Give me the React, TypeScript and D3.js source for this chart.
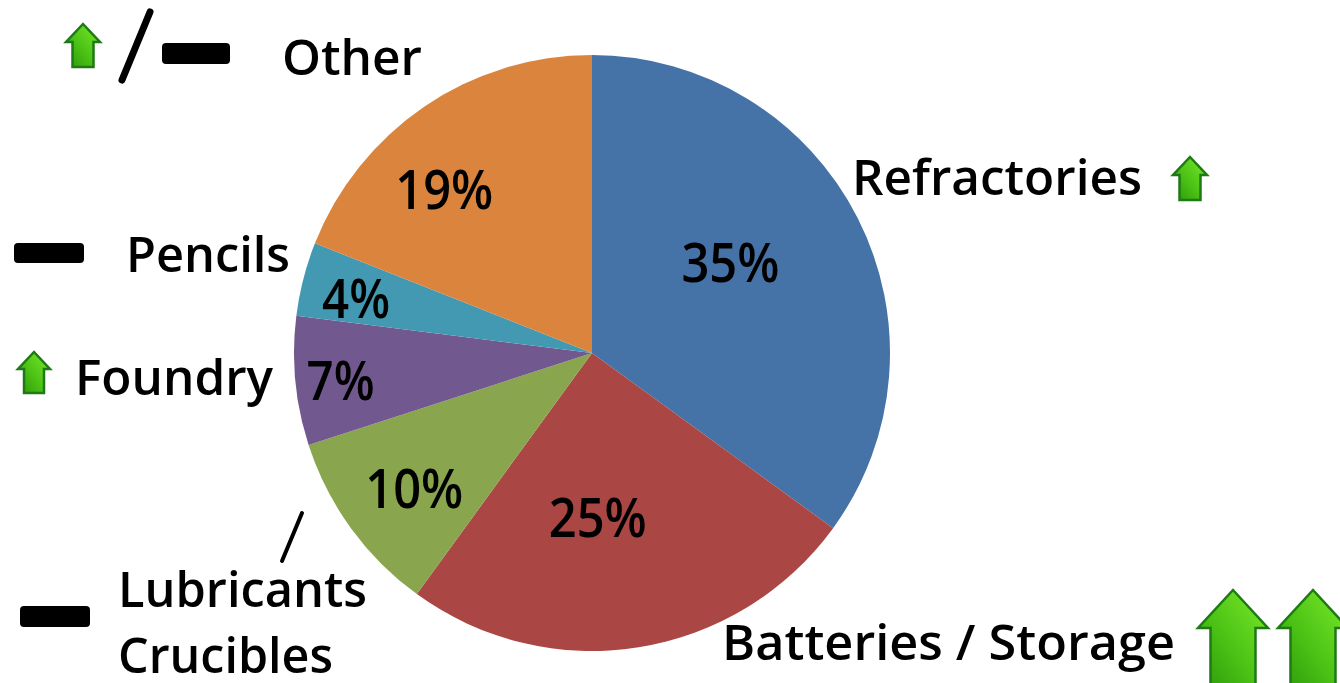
import React, { useEffect, useRef } from 'react';
import * as d3 from 'd3';

// slice data, clockwise from 12 o'clock
const categories = ['Refractories', 'Batteries / Storage', 'Lubricants / Crucibles', 'Foundry', 'Pencils', 'Other'];
const shares = [35, 25, 10, 7, 4, 19];
const sliceColors = ['#4673A7', '#AA4644', '#89A54E', '#71588F', '#4399B1', '#DB843D'];

// trend marks next to each label: 'up', 'up2', 'flat', 'upflat'
const trends = ['up', 'up2', 'flat', 'up', 'flat', 'upflat'];

const W = 1340;
const H = 683;
const FONT = '"Open Sans", "Noto Sans", sans-serif';

function arrowPath(x: number, y: number, w: number, h: number, headH: number, shaftW: number) {
  const p = d3.path();
  const cx = x + w / 2;
  p.moveTo(cx, y);
  p.lineTo(x + w, y + headH);
  p.lineTo(cx + shaftW / 2, y + headH);
  p.lineTo(cx + shaftW / 2, y + h);
  p.lineTo(cx - shaftW / 2, y + h);
  p.lineTo(cx - shaftW / 2, y + headH);
  p.lineTo(x, y + headH);
  p.closePath();
  return p.toString();
}

function App() {
  const ref = useRef<SVGSVGElement>(null);

  useEffect(() => {
    const svg = d3.select(ref.current);
    svg.selectAll('*').remove();

    const defs = svg.append('defs');
    const grad = defs
      .append('linearGradient')
      .attr('id', 'greenGrad')
      .attr('x1', '100%')
      .attr('y1', '0%')
      .attr('x2', '0%')
      .attr('y2', '100%');
    grad.append('stop').attr('offset', '0%').attr('stop-color', '#7AEB2A');
    grad.append('stop').attr('offset', '55%').attr('stop-color', '#4CC215');
    grad.append('stop').attr('offset', '100%').attr('stop-color', '#2A960A');

    const cx = 592;
    const cy = 353;
    const r = 298;

    const pie = d3
      .pie<number>()
      .sort(null)
      .value((d) => d)
      .startAngle(0)
      .endAngle(2 * Math.PI);
    const arcs = pie(shares);

    const arc = d3.arc<d3.PieArcDatum<number>>().innerRadius(0).outerRadius(r);

    const g = svg.append('g').attr('transform', `translate(${cx},${cy})`);

    g.selectAll('path.slice')
      .data(arcs)
      .enter()
      .append('path')
      .attr('class', 'slice')
      .attr('d', arc)
      .attr('fill', (_, i) => sliceColors[i]);

    // percentage labels: radius and angle nudge per slice (excel-style placement)
    const labelRadius = [165, 165, 224, 253, 242, 220];
    const labelAngleNudge = [-6, 7, -1.5, -1, -1.5, -8];
    g.selectAll('text.pct')
      .data(arcs)
      .enter()
      .append('text')
      .attr('class', 'pct')
      .attr('x', (d, i) => {
        const a = (d.startAngle + d.endAngle) / 2 + (labelAngleNudge[i] * Math.PI) / 180;
        return Math.sin(a) * labelRadius[i];
      })
      .attr('y', (d, i) => {
        const a = (d.startAngle + d.endAngle) / 2 + (labelAngleNudge[i] * Math.PI) / 180;
        return -Math.cos(a) * labelRadius[i] + 19;
      })
      .attr('text-anchor', 'middle')
      .attr('font-family', FONT)
      .attr('font-size', 54)
      .attr('font-weight', 600)
      .attr('textLength', (d) => (d.data >= 10 ? 98 : 68))
      .attr('lengthAdjust', 'spacingAndGlyphs')
      .attr('fill', '#000')
      .text((d) => `${d.data}%`);

    // category annotations
    const labels = [
      { text: 'Refractories', x: 852, y: 195, len: 290 },
      { text: 'Batteries / Storage', x: 722, y: 660, len: 453 },
      { text: 'Lubricants', x: 118, y: 607, len: 249 },
      { text: 'Crucibles', x: 118, y: 673, len: 215 },
      { text: 'Foundry', x: 75, y: 395, len: 198 },
      { text: 'Pencils', x: 126, y: 272, len: 164 },
      { text: 'Other', x: 282, y: 75, len: 140 },
    ];
    svg
      .selectAll('text.cat')
      .data(labels)
      .enter()
      .append('text')
      .attr('class', 'cat')
      .attr('x', (d) => d.x)
      .attr('y', (d) => d.y)
      .attr('font-family', FONT)
      .attr('font-size', 48)
      .attr('font-weight', 600)
      .attr('textLength', (d) => d.len)
      .attr('lengthAdjust', 'spacingAndGlyphs')
      .attr('fill', '#000')
      .text((d) => d.text);

    // trend marks
    const arrows = [
      { x: 1173, y: 157, w: 34, h: 43, head: 18, shaft: 21 },
      { x: 18, y: 352, w: 32, h: 41, head: 17, shaft: 20 },
      { x: 66, y: 24, w: 34, h: 43, head: 18, shaft: 21 },
      { x: 1198, y: 590, w: 70, h: 100, head: 38, shaft: 45 },
      { x: 1278, y: 590, w: 70, h: 100, head: 38, shaft: 45 },
    ];
    svg
      .selectAll('path.arrow')
      .data(arrows)
      .enter()
      .append('path')
      .attr('class', 'arrow')
      .attr('d', (d) => arrowPath(d.x, d.y, d.w, d.h, d.head, d.shaft))
      .attr('fill', 'url(#greenGrad)')
      .attr('stroke', '#1E7A14')
      .attr('stroke-width', 2.5)
      .attr('stroke-linejoin', 'miter');

    const dashes = [
      { x: 162, y: 43, w: 68, h: 21 },
      { x: 14, y: 243, w: 70, h: 20 },
      { x: 20, y: 606, w: 70, h: 21 },
    ];
    svg
      .selectAll('rect.dash')
      .data(dashes)
      .enter()
      .append('rect')
      .attr('class', 'dash')
      .attr('x', (d) => d.x)
      .attr('y', (d) => d.y)
      .attr('width', (d) => d.w)
      .attr('height', (d) => d.h)
      .attr('rx', 4)
      .attr('fill', '#000');

    const slashes = [
      { x1: 150, y1: 12, x2: 122, y2: 80, w: 7 },
      { x1: 302, y1: 513, x2: 282, y2: 561, w: 4 },
    ];
    svg
      .selectAll('line.slash')
      .data(slashes)
      .enter()
      .append('line')
      .attr('class', 'slash')
      .attr('x1', (d) => d.x1)
      .attr('y1', (d) => d.y1)
      .attr('x2', (d) => d.x2)
      .attr('y2', (d) => d.y2)
      .attr('stroke', '#000')
      .attr('stroke-width', (d) => d.w)
      .attr('stroke-linecap', 'round');
  }, []);

  return (
    <div style={{ position: 'absolute', left: 0, top: 0, width: W, height: H, background: '#fff' }}>
      <svg ref={ref} width={W} height={H} style={{ display: 'block' }} />
    </div>
  );
}

export default App;
